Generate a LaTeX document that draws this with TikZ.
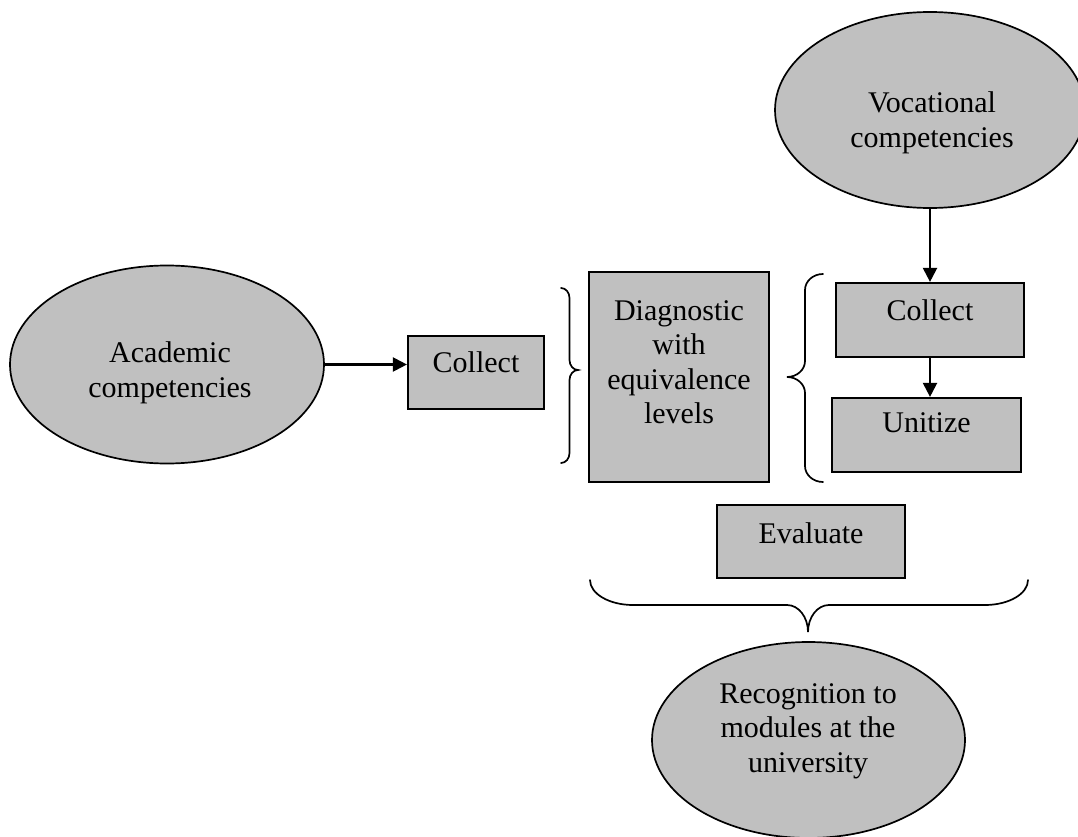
\documentclass[tikz,border=0pt]{standalone}
\usepackage{fontspec}
\setmainfont{Liberation Serif}
\usetikzlibrary{shapes.geometric,arrows.meta}
\definecolor{shapegray}{HTML}{C0C0C0}
\begin{document}
\begin{tikzpicture}[x=1pt,y=-1pt,
  oval/.style={ellipse,draw=black,fill=shapegray,line width=1.7pt,inner sep=0pt},
  stepbox/.style={rectangle,draw=black,fill=shapegray,line width=2.2pt,inner sep=0pt},
  caption/.style={font=\fontsize{30}{34.5}\selectfont,align=center,inner sep=0pt,anchor=north},
  arr/.style={line width=2.2pt,-{Triangle[length=14pt,width=14pt]}},
  brace/.style={line width=1.7pt,line cap=round}]
\useasboundingbox[fill=white] (0,0) rectangle (1078,837);

% competency sources
\node[oval,minimum width=310pt,minimum height=196pt] (voc) at (930,110) {};
\node[caption] (voc-text) at (932,91.5) {Vocational\\competencies};
\node[oval,minimum width=314pt,minimum height=198pt] (acad) at (167,364.5) {};
\node[caption] (acad-text) at (170,341.5) {Academic\\competencies};

% process steps
\node[stepbox,minimum width=136pt,minimum height=73pt] (collectA) at (476,372.5) {};
\node[caption] (collectA-text) at (476,351) {Collect};
\node[stepbox,minimum width=180pt,minimum height=210pt] (diag) at (679,377) {};
\node[caption] (diag-text) at (679,300) {Diagnostic\\with\\equivalence\\levels};
\node[stepbox,minimum width=188pt,minimum height=74pt] (collectB) at (930,320) {};
\node[caption] (collectB-text) at (930,299) {Collect};
\node[stepbox,minimum width=189pt,minimum height=74pt] (unitize) at (926.5,435) {};
\node[caption] (unitize-text) at (926.5,412) {Unitize};
\node[stepbox,minimum width=188pt,minimum height=73pt] (evaluate) at (811,541.5) {};
\node[caption] (evaluate-text) at (811,522) {Evaluate};

% outcome
\node[oval,minimum width=313pt,minimum height=196pt] (recog) at (808.5,740) {};
\node[caption] (recog-text) at (808,683) {Recognition to\\modules at the\\university};

% arrows
\draw[arr] (acad.east) -- (acad.east -| collectA.west);
\draw[arr] (voc.south) -- (collectB.north);
\draw[arr] (collectB.south) -- (collectB.south |- unitize.north);

% brace between the academic collect step and the diagnostic
\draw[brace] (561,288) .. controls (565.7,288) and (569.5,292.5) .. (569.5,298)
  -- (569.5,360) .. controls (569.5,365.5) and (573.3,370) .. (578,370)
  .. controls (573.3,370) and (569.5,374.5) .. (569.5,380)
  -- (569.5,453) .. controls (569.5,458.5) and (565.7,463) .. (561,463);

% brace grouping the vocational steps
\draw[brace] (823,274) .. controls (813.06,274) and (805,281.16) .. (805,290)
  -- (805,361) .. controls (805,369.84) and (796.94,377) .. (787,377)
  .. controls (796.94,377) and (805,384.16) .. (805,393)
  -- (805,466) .. controls (805,474.84) and (813.06,482) .. (823,482);

% brace leading to the recognition
\draw[brace] (590,580) .. controls (590,593.8) and (609.25,605) .. (633,605)
  -- (787,605) .. controls (798.6,605) and (808,617.1) .. (808,632)
  .. controls (808,617.1) and (817.4,605) .. (829,605)
  -- (985,605) .. controls (1008.75,605) and (1028,593.8) .. (1028,580);
\end{tikzpicture}
\end{document}
